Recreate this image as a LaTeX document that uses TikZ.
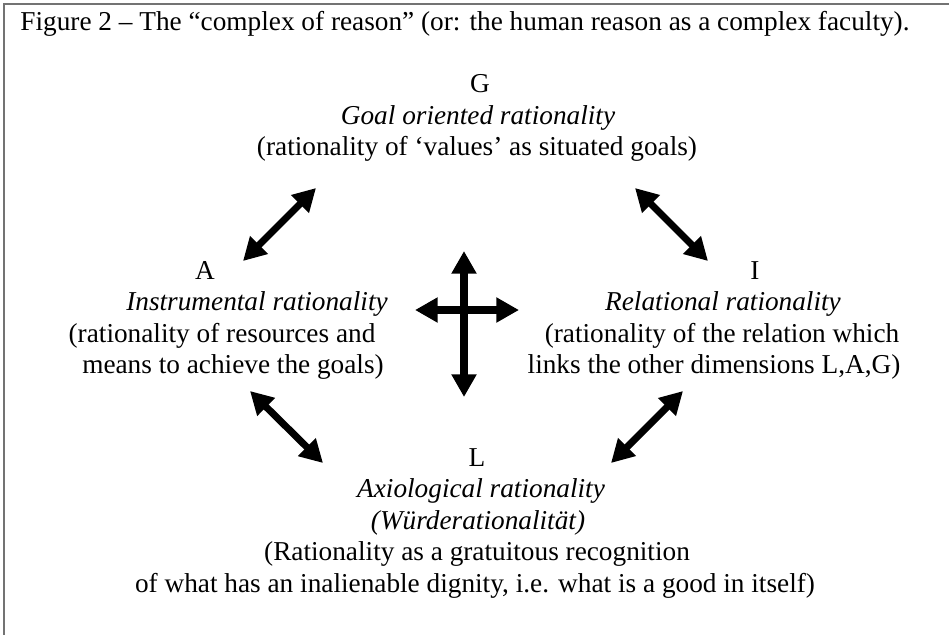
\documentclass[tikz,border=0pt]{standalone}
\usepackage{fontspec}
\setmainfont{Liberation Serif}
\usetikzlibrary{arrows.meta}
\tikzset{>={Triangle[length=10pt,width=10.5pt]}}

\begin{document}
\begin{tikzpicture}[x=0.44pt,y=-0.44pt,
  txt/.style={font=\fontsize{12}{14}\selectfont, inner sep=0pt, anchor=base},
  dbl/.style={<->, line width=3.1pt}]

\useasboundingbox (0,0) rectangle (949,635);
\fill[white] (0,0) rectangle (949,635);
\draw[color=black!55, line width=0.9pt] (949,4)--(4,4)--(4,635);

\node[txt, anchor=base west] (title) at (20,30) {Figure 2 – The “complex of reason” (or: the human reason as a complex faculty).};

\node[txt] (G) at (480,92) {G};
\node[txt] (Gname) at (478,124) {\textit{Goal oriented rationality}};
\node[txt] (Gtext) at (477,155) {(rationality of ‘values’ as situated goals)};

\node[txt] (A) at (205,279) {A};
\node[txt] (Aname) at (257,310) {\textit{Instrumental rationality}};
\node[txt] (Atext1) at (222,342) {(rationality of resources and};
\node[txt] (Atext2) at (233,373) {means to achieve the goals)};

\node[txt] (I) at (755,279) {I};
\node[txt] (Iname) at (723,310) {\textit{Relational rationality}};
\node[txt] (Itext1) at (722,342) {(rationality of the relation which};
\node[txt] (Itext2) at (714,373) {links the other dimensions L,A,G)};

\node[txt] (L) at (477,466) {L};
\node[txt] (Lname) at (481,497) {\textit{Axiological rationality}};
\node[txt] (Lname2) at (478,529) {\textit{(Würderationalität)}};
\node[txt] (Ltext1) at (477,560) {(Rationality as a gratuitous recognition};
\node[txt] (Ltext2) at (475,592) {of what has an inalienable dignity, i.e. what is a good in itself)};

\coordinate (ga1) at (243,261);
\coordinate (ga2) at (316,188);
\coordinate (gi1) at (635,188);
\coordinate (gi2) at (708,261);
\coordinate (al1) at (250,391);
\coordinate (al2) at (323,463);
\coordinate (il1) at (683,391);
\coordinate (il2) at (611,463);
\coordinate (up) at (464,251);
\coordinate (down) at (464,397);
\coordinate (left) at (415,310);
\coordinate (right) at (519,310);

\draw[dbl] (ga1)--(ga2);
\draw[dbl] (gi1)--(gi2);
\draw[dbl] (al1)--(al2);
\draw[dbl] (il1)--(il2);
\draw[dbl] (up)--(down);
\draw[dbl] (left)--(right);

\end{tikzpicture}
\end{document}
